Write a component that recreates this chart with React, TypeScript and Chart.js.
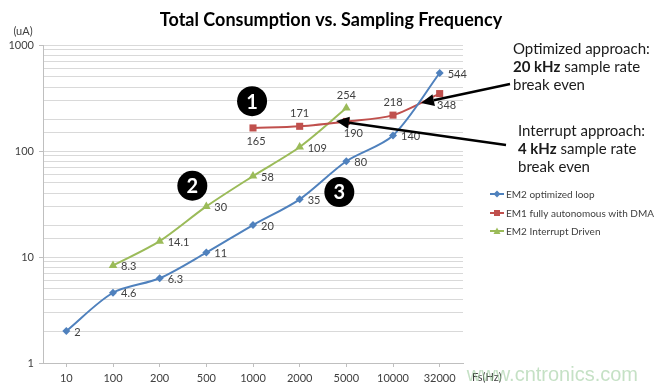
import React, { useEffect, useRef } from "react";
import { Chart, registerables } from "chart.js";
Chart.register(...registerables);

const categories = ["10", "100", "200", "500", "1000", "2000", "5000", "10000", "32000"];
const em2Optimized = [2, 4.6, 6.3, 11, 20, 35, 80, 140, 544];
const em1Dma = [null, null, null, null, 165, 171, 190, 218, 348];
const em2Interrupt = [null, 8.3, 14.1, 30, 58, 109, 254, null, null];
const seriesNames = ["EM2 optimized loop", "EM1 fully autonomous with DMA", "EM2 Interrupt Driven"];
const seriesColors = ["#4F81BD", "#C0504D", "#9BBB59"];
const seriesPoints = ["rectRot", "rect", "triangle"];
const yMin = 1;
const yMax = 1000;

// label placement per point (style only)
const labelPlacement = [
  ["right", "right", "right", "right", "right", "right", "right", "right", "right"],
  [null, null, null, null, "below", "above", "belowRight", "above", "belowRight"],
  [null, "right", "right", "right", "right", "right", "above", null, null],
];

// annotations in data space (category index, value)
const badges = [
  { label: "1", idx: 3.98, val: 295 },
  { label: "2", idx: 2.7, val: 47 },
  { label: "3", idx: 5.85, val: 41 },
];
const arrows = [
  { tail: [510, 84], tipIdx: 7.6, tipVal: 284 },
  { tail: [506, 145], tipIdx: 5.78, tipVal: 192 },
];

const FONT = "Lato, 'Open Sans', sans-serif";

const overlay = {
  id: "overlay",
  afterDatasetsDraw(chart: any) {
    const ctx = chart.ctx;
    ctx.save();
    ctx.font = `11px ${FONT}`;
    ctx.fillStyle = "#404040";
    chart.data.datasets.forEach((ds: any, di: number) => {
      const meta = chart.getDatasetMeta(di);
      meta.data.forEach((pt: any, i: number) => {
        const v = ds.data[i];
        const place = labelPlacement[di][i];
        if (v == null || !place) return;
        let x = pt.x, y = pt.y;
        ctx.textBaseline = "middle";
        if (place === "right") { ctx.textAlign = "left"; x += 8; y += 1; }
        else if (place === "above") { ctx.textAlign = "center"; y -= 13; }
        else if (place === "below") { ctx.textAlign = "center"; x += 3; y += 14; }
        else if (place === "belowRight") { ctx.textAlign = "center"; x += 7; y += 12; }
        ctx.fillText(String(v), x, y);
      });
    });
    ctx.restore();
  },
  afterDraw(chart: any) {
    const ctx = chart.ctx;
    const xs = chart.scales.x;
    const ys = chart.scales.y;
    const step = xs.getPixelForValue(1) - xs.getPixelForValue(0);
    const px = (idx: number) => xs.getPixelForValue(0) + idx * step;
    ctx.save();
    // title
    ctx.fillStyle = "#000";
    ctx.font = `bold 18px ${FONT}`;
    ctx.textAlign = "center";
    ctx.textBaseline = "middle";
    ctx.fillText("Total Consumption vs. Sampling Frequency", 331, 20);
    // axis titles
    ctx.font = `11px ${FONT}`;
    ctx.fillStyle = "#404040";
    ctx.fillText("(uA)", 23, 31);
    ctx.textAlign = "left";
    ctx.fillText("Fs(Hz)", 472, 377);
    // badges
    badges.forEach((b) => {
      const x = px(b.idx), y = ys.getPixelForValue(b.val);
      ctx.beginPath();
      ctx.arc(x, y, 15, 0, Math.PI * 2);
      ctx.fillStyle = "#000";
      ctx.fill();
      ctx.fillStyle = "#fff";
      ctx.font = `bold 20px ${FONT}`;
      ctx.textAlign = "center";
      ctx.fillText(b.label, x, y + 1);
    });
    // arrows
    arrows.forEach((a) => {
      const [tx0, ty0] = a.tail;
      const tx = px(a.tipIdx), ty = ys.getPixelForValue(a.tipVal);
      const ang = Math.atan2(ty - ty0, tx - tx0);
      const hl = 13, hw = 6;
      const bx = tx - hl * Math.cos(ang), by = ty - hl * Math.sin(ang);
      ctx.strokeStyle = "#000";
      ctx.lineWidth = 2.5;
      ctx.beginPath();
      ctx.moveTo(tx0, ty0);
      ctx.lineTo(bx, by);
      ctx.stroke();
      ctx.beginPath();
      ctx.moveTo(tx, ty);
      ctx.lineTo(bx + hw * Math.sin(ang), by - hw * Math.cos(ang));
      ctx.lineTo(bx - hw * Math.sin(ang), by + hw * Math.cos(ang));
      ctx.closePath();
      ctx.fillStyle = "#000";
      ctx.fill();
    });
    // annotation texts
    const drawRich = (parts: [string, boolean][], x: number, y: number) => {
      let cx = x;
      parts.forEach(([t, bold]) => {
        ctx.font = `${bold ? "bold " : ""}15px ${FONT}`;
        ctx.fillText(t, cx, y);
        cx += ctx.measureText(t).width;
      });
    };
    ctx.fillStyle = "#1a1a1a";
    ctx.textAlign = "left";
    ctx.textBaseline = "middle";
    drawRich([["Optimized approach:", false]], 513, 49);
    drawRich([["20 kHz", true], [" sample rate", false]], 513, 67);
    drawRich([["break even", false]], 513, 85);
    drawRich([["Interrupt approach:", false]], 518, 131);
    drawRich([["4 kHz", true], [" sample rate", false]], 518, 149);
    drawRich([["break even", false]], 518, 167);
    // legend
    const rows = [194, 213, 231];
    seriesNames.forEach((name, i) => {
      const y = rows[i];
      ctx.strokeStyle = seriesColors[i];
      ctx.lineWidth = 2;
      ctx.beginPath();
      ctx.moveTo(490, y);
      ctx.lineTo(504, y);
      ctx.stroke();
      ctx.fillStyle = seriesColors[i];
      ctx.beginPath();
      if (i === 0) {
        ctx.moveTo(497, y - 3.5); ctx.lineTo(500.5, y); ctx.lineTo(497, y + 3.5); ctx.lineTo(493.5, y);
      } else if (i === 1) {
        ctx.rect(494, y - 3, 6, 6);
      } else {
        ctx.moveTo(497, y - 3.5); ctx.lineTo(500.5, y + 3); ctx.lineTo(493.5, y + 3);
      }
      ctx.closePath();
      ctx.fill();
      ctx.fillStyle = "#404040";
      ctx.font = `10px ${FONT}`;
      ctx.textAlign = "left";
      ctx.fillText(name, 506, y + 1);
    });
    // watermark
    ctx.fillStyle = "rgba(150, 200, 150, 0.55)";
    ctx.font = `20px 'Liberation Sans', Arial, sans-serif`;
    ctx.textAlign = "right";
    ctx.fillText("www.cntronics.com", 638, 375);
    ctx.restore();
  },
};

export default function App() {
  const ref = useRef<HTMLCanvasElement>(null);
  useEffect(() => {
    document.body.style.margin = "0";
    Chart.defaults.font.family = FONT;
    const data = [em2Optimized, em1Dma, em2Interrupt];
    const chart = new Chart(ref.current!, {
      type: "line",
      data: {
        labels: categories,
        datasets: data.map((d, i) => ({
          label: seriesNames[i],
          data: d as any,
          borderColor: seriesColors[i],
          backgroundColor: seriesColors[i],
          borderWidth: 2,
          pointStyle: seriesPoints[i] as any,
          pointRadius: i === 0 ? 4 : 5,
          pointBorderWidth: 0,
          tension: 0.3,
          spanGaps: false,
          fill: false,
        })),
      },
      options: {
        responsive: false,
        animation: false,
        layout: { padding: { top: 45, right: 192, left: 0, bottom: 0 } },
        plugins: { legend: { display: false }, title: { display: false }, tooltip: { enabled: false } },
        scales: {
          x: {
            type: "category",
            offset: true,
            border: { color: "#bfbfbf", width: 1 },
            grid: { display: true, drawOnChartArea: false, drawTicks: true, tickLength: 4, offset: false, color: "#bfbfbf" },
            ticks: { color: "#404040", font: { size: 11 }, padding: 5, maxRotation: 0, autoSkip: false },
            afterFit: (s: any) => { s.height = 27; },
          },
          y: {
            type: "logarithmic",
            min: yMin,
            max: yMax,
            border: { color: "#bfbfbf", width: 1 },
            grid: {
              color: "#d9d9d9",
              tickLength: 4,
              tickColor: (c: any) => {
                const v = c.tick ? c.tick.value : 0;
                return Math.abs(Math.log10(v) - Math.round(Math.log10(v))) < 1e-9 ? "#bfbfbf" : "rgba(0,0,0,0)";
              },
            },
            ticks: {
              color: "#404040",
              font: { size: 11 },
              padding: 5,
              autoSkip: false,
              callback: (v: any) => {
                const l = Math.log10(Number(v));
                return Math.abs(l - Math.round(l)) < 1e-9 ? String(v) : "";
              },
            },
            afterFit: (s: any) => { s.width = 43; },
          },
        },
      },
      plugins: [overlay],
    });
    return () => chart.destroy();
  }, []);
  return (
    <div style={{ position: "fixed", left: 0, top: 0, width: 655, height: 390, background: "#fff" }}>
      <canvas ref={ref} width={655} height={390} style={{ width: 655, height: 390 }} />
    </div>
  );
}
